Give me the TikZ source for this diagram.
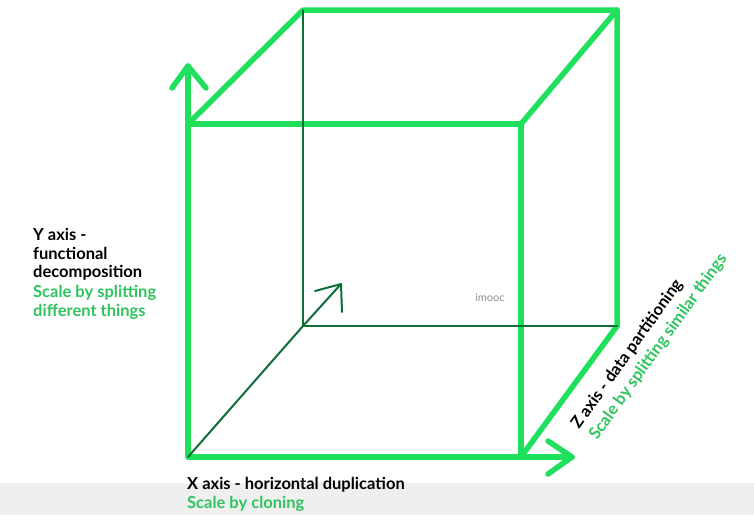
\documentclass[tikz,border=0pt]{standalone}
\usepackage{fontspec}
\setmainfont{Lato}
\begin{document}
\definecolor{brightgreen}{HTML}{1FE05C}
\definecolor{darkline}{HTML}{0E6E3A}
\definecolor{labelgreen}{HTML}{2EC45E}
\definecolor{bandgray}{HTML}{EFEFEF}
\begin{tikzpicture}[x=1pt,y=-1pt,
  thick edge/.style={draw=brightgreen,line width=5.5pt,line cap=round,line join=round},
  thin edge/.style={draw=darkline,line width=2pt,line cap=round,line join=round},
  axis title/.style={font=\bfseries\fontsize{16.5}{19}\selectfont,text=black,inner sep=0pt,anchor=base west},
  axis note/.style={font=\bfseries\fontsize{16.5}{19}\selectfont,text=labelgreen,inner sep=0pt,anchor=base west}]
  % canvas and bottom band
  \fill[white] (0,0) rectangle (754,515);
  \fill[bandgray] (0,483) rectangle (754,515);
  \useasboundingbox (0,0) rectangle (754,515);

  % cube corners: front face A B C D, back face E F G H
  \coordinate (A) at (188,124);
  \coordinate (B) at (521,124);
  \coordinate (C) at (521,457);
  \coordinate (D) at (188,457);
  \coordinate (E) at (303,10);
  \coordinate (F) at (617,10);
  \coordinate (G) at (617,326);
  \coordinate (H) at (303,326);

  % arrow tips and chevron arms
  \coordinate (Ytip) at (188,66);
  \coordinate (Yl) at (172,88);
  \coordinate (Yr) at (206,88);
  \coordinate (Xtip) at (572,457);
  \coordinate (Xu) at (548,441);
  \coordinate (Xd) at (548,474);
  \coordinate (Ztip) at (341,284);
  \coordinate (Zl) at (315,291);
  \coordinate (Zr) at (342,312);

  % outer edges in bright green
  \draw[thick edge] (A) -- (E) -- (F) -- (B);
  \draw[thick edge] (F) -- (G) -- (C);
  \draw[thick edge] (A) -- (B) -- (C);
  \draw[thick edge] (Ytip) -- (A) -- (D) -- (Xtip);
  \draw[thick edge] (Yl) -- (Ytip) -- (Yr);
  \draw[thick edge] (Xu) -- (Xtip) -- (Xd);

  % inner edges in dark green, laid over the outer ones
  \draw[thin edge] (E) -- (H) -- (G);
  \draw[thin edge] (D) -- (H) -- (Ztip);
  \draw[thin edge] (Zl) -- (Ztip) -- (Zr);

  % Y axis label
  \node[axis title] (y1) at (33,240) {Y axis -};
  \node[axis title] (y2) at (33,259) {functional};
  \node[axis title] (y3) at (33,277) {decomposition};
  \node[axis note] (y4) at (33,297) {Scale by splitting};
  \node[axis note] (y5) at (33,316) {different things};

  % X axis label
  \node[axis title] (x1) at (187,489) {X axis - horizontal duplication};
  \node[axis note] (x2) at (187,508) {Scale by cloning};

  % Z axis label, running along the diagonal
  \node[axis title,rotate=54.5] (z1) at (579,430) {Z axis - data partitioning};
  \node[axis note,rotate=54.5] (z2) at (597,441) {Scale by splitting similar things};

  % watermark text
  \node[font=\fontsize{11}{13}\selectfont,text=gray!85,inner sep=0pt] (mark) at (490,298) {imooc};
\end{tikzpicture}
\end{document}
